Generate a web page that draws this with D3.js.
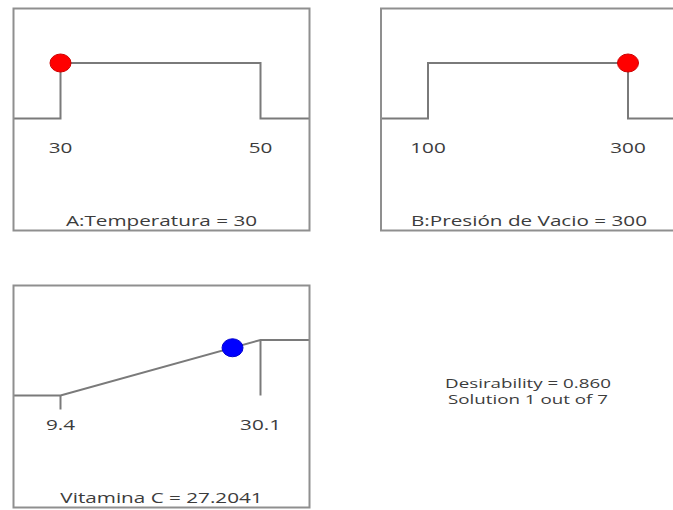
<!DOCTYPE html>
<html><head><meta charset="utf-8">
<script src="https://cdn.jsdelivr.net/npm/d3@7"></script>
<style>body{margin:0;background:#fff}svg{display:block}</style>
</head><body>
<script>
// ---- data ----
const factorNames = ["A:Temperatura", "B:Presión de Vacio"];
const factorLow = [30, 100];
const factorHigh = [50, 300];
const factorValue = [30, 300];
const factorTickLabels = [["30", "50"], ["100", "300"]];
const responseName = "Vitamina C";
const responseLow = 9.4;
const responseHigh = 30.1;
const responseValue = 27.2041;
const responseTickLabels = ["9.4", "30.1"];
const desirability = 0.860;
const solutionIndex = 1;
const solutionCount = 7;

// ---- layout ----
const W = 673, H = 510;
const PW = 296, PH = 222;
const panelPos = [[13.5, 8.5], [381, 8.5], [13.5, 285.5]];
const lineColor = "#7a7a7a", boxColor = "#8f8f8f", textColor = "#3c3c3c";
const font = "'Open Sans', sans-serif";

const svg = d3.select("body").append("svg").attr("width", W).attr("height", H);

function stretchedText(g, x, y, str, size, sx) {
  g.append("text").attr("transform", `translate(${x},${y}) scale(${sx},1)`)
    .attr("text-anchor", "middle").attr("font-family", font).attr("font-size", size)
    .attr("fill", textColor).text(str);
}

function panel(i, low, high, value, mode, ticks, title, dotColor) {
  const [px, py] = panelPos[i];
  const g = svg.append("g").attr("transform", `translate(${px},${py})`);
  const span = high - low;
  const x = d3.scaleLinear().domain([low - span * 0.235, high + span * 0.245]).range([0, PW]);
  const y = d3.scaleLinear().domain([0, 1]).range([110, 54.5]);
  const [d0, d1] = x.domain();
  let pts, dval;
  if (mode === "range") {
    pts = [[d0, 0], [low, 0], [low, 1], [high, 1], [high, 0], [d1, 0]];
    dval = 1;
  } else {
    pts = [[d0, 0], [low, 0], [high, 1], [d1, 1]];
    dval = (value - low) / span;
  }
  const line = d3.line().x(d => x(d[0])).y(d => y(d[1]));
  g.append("path").attr("d", line(pts)).attr("fill", "none")
    .attr("stroke", lineColor).attr("stroke-width", 2);
  if (mode === "max") {
    g.append("line").attr("x1", x(high)).attr("x2", x(high)).attr("y1", y(1)).attr("y2", y(0))
      .attr("stroke", lineColor).attr("stroke-width", 2);
    g.append("line").attr("x1", x(low)).attr("x2", x(low)).attr("y1", y(0)).attr("y2", y(0) + 14)
      .attr("stroke", lineColor).attr("stroke-width", 2);
  }
  g.append("rect").attr("x", 0).attr("y", 0).attr("width", PW).attr("height", PH)
    .attr("fill", "none").attr("stroke", boxColor).attr("stroke-width", 2);
  g.append("ellipse").attr("cx", x(value)).attr("cy", y(dval)).attr("rx", 10.5).attr("ry", 9)
    .attr("fill", dotColor).attr("stroke", d3.color(dotColor).darker(0.6)).attr("stroke-width", 1);
  stretchedText(g, x(low), 144.5, ticks[0], 15, 1.38);
  stretchedText(g, x(high), 144.5, ticks[1], 15, 1.38);
  stretchedText(g, PW / 2, 217, title, 15, 1.38);
}

panel(0, factorLow[0], factorHigh[0], factorValue[0], "range", factorTickLabels[0],
  `${factorNames[0]} = ${factorValue[0]}`, "#ff0000");
panel(1, factorLow[1], factorHigh[1], factorValue[1], "range", factorTickLabels[1],
  `${factorNames[1]} = ${factorValue[1]}`, "#ff0000");
panel(2, responseLow, responseHigh, responseValue, "max", responseTickLabels,
  `${responseName} = ${responseValue}`, "#0000ff");

const tg = svg.append("g");
stretchedText(tg, 528, 388, `Desirability = ${desirability.toFixed(3)}`, 12.5, 1.5);
stretchedText(tg, 528, 404, `Solution ${solutionIndex} out of ${solutionCount}`, 12.5, 1.5);
</script>
</body></html>
